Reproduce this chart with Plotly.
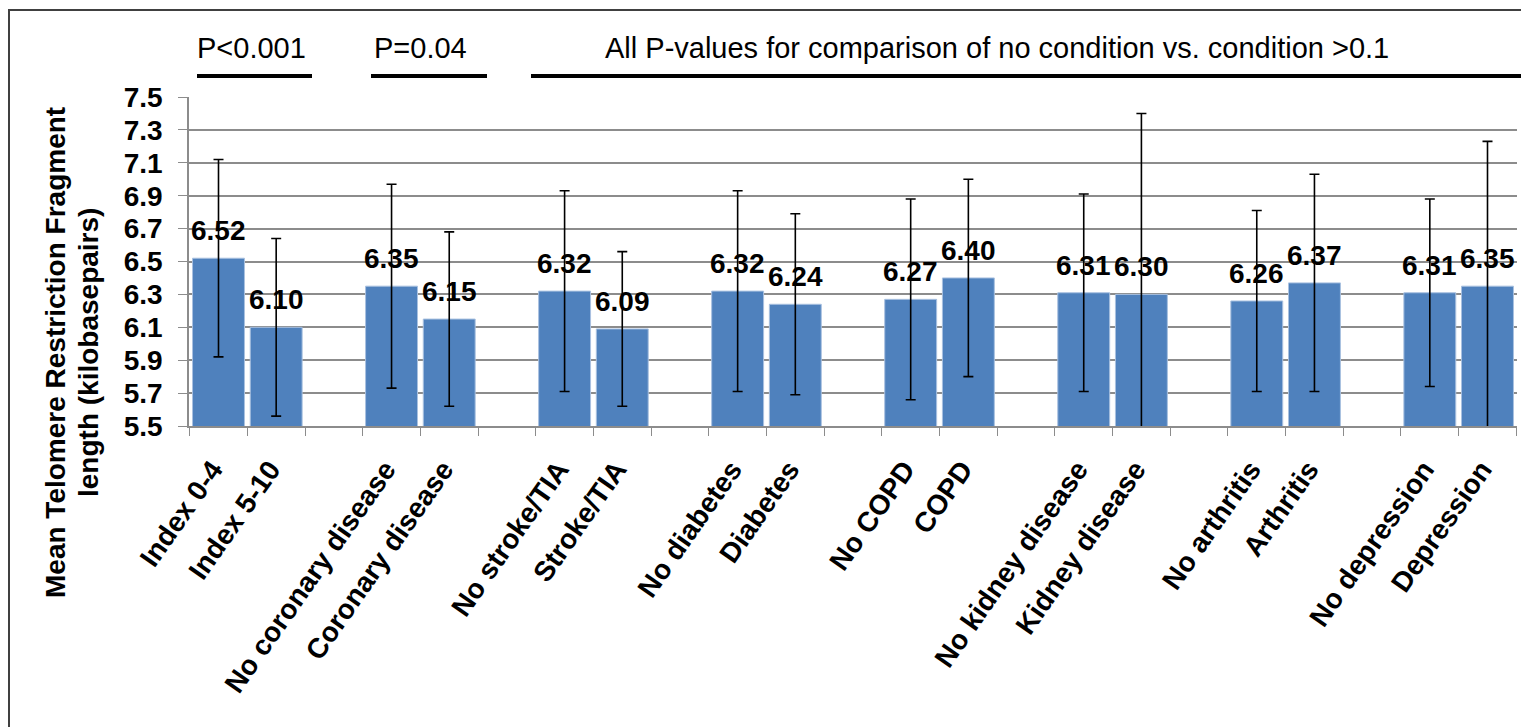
import plotly.graph_objects as go

# ---- data ----
groups = [
    ["Index 0-4", "Index 5-10"],
    ["No coronary disease", "Coronary disease"],
    ["No stroke/TIA", "Stroke/TIA"],
    ["No diabetes", "Diabetes"],
    ["No COPD", "COPD"],
    ["No kidney disease", "Kidney disease"],
    ["No arthritis", "Arthritis"],
    ["No depression", "Depression"],
]
means = [6.52, 6.10, 6.35, 6.15, 6.32, 6.09, 6.32, 6.24,
         6.27, 6.40, 6.31, 6.30, 6.26, 6.37, 6.31, 6.35]
errors = [0.60, 0.54, 0.62, 0.53, 0.61, 0.47, 0.61, 0.55,
          0.61, 0.60, 0.60, 1.10, 0.55, 0.66, 0.57, 0.88]
labels = ["6.52", "6.10", "6.35", "6.15", "6.32", "6.09", "6.32", "6.24",
          "6.27", "6.40", "6.31", "6.30", "6.26", "6.37", "6.31", "6.35"]
p_texts = ["P<0.001", "P=0.04",
           "All P-values for comparison of no condition vs. condition >0.1"]
y_title = ["Mean Telomere Restriction Fragment", "length (kilobasepairs)"]

# build category sequence with blank spacer slots between groups
cats, ys, errs = [], [], []
k = 0
for gi, g in enumerate(groups):
    for name in g:
        cats.append(name)
        ys.append(means[k])
        errs.append(errors[k])
        k += 1
    if gi < len(groups) - 1:
        cats.append(" " * (gi + 1))
        ys.append(None)
        errs.append(None)
bar_cats = [c for c in cats if c.strip()]

# page body has an 8px default margin; work in screenshot pixel coordinates
OX, OY = 8, 8
SW, SH = 1529, 727
W, H = SW - OX, SH - OY
PL, PR, PT, PB = 189, 1517, 97, 426   # plot area in screenshot pixels
L, R, T, B = PL - OX, SW - PR, PT - OY, SH - PB
pw, ph = PR - PL, PB - PT


def px(x):
    return (x - PL) / pw


def py(y):
    return (PB - y) / ph


FONT = "Liberation Sans, Arial, sans-serif"

fig = go.Figure()
fig.add_trace(go.Bar(
    x=cats, y=ys,
    marker=dict(color="#4F81BD", line=dict(color="#A9C1E0", width=1)),
    width=0.9,
    error_y=dict(type="data", array=errs, symmetric=True,
                 color="black", thickness=1.6, width=5),
    hoverinfo="skip",
))

# value labels above bars
for c, v, t in zip(bar_cats, means, labels):
    fig.add_annotation(x=c, y=v, xref="x", yref="y", text=t,
                       showarrow=False, xanchor="center", yanchor="bottom",
                       yshift=10,
                       font=dict(family=FONT, size=28, color="black",
                                 weight="bold"))

fig.update_layout(
    width=W, height=H,
    margin=dict(l=L, r=R, t=T, b=B, pad=0, autoexpand=False),
    paper_bgcolor="white", plot_bgcolor="white",
    showlegend=False,
    font=dict(family=FONT, color="black"),
    bargap=0.1,
)
fig.update_xaxes(
    type="category", categoryorder="array", categoryarray=cats,
    tickson="boundaries", ticks="outside", ticklen=8, tickcolor="#8C8C8C",
    tickangle=-55, showline=True, linecolor="#8C8C8C", linewidth=1.5,
    tickfont=dict(family=FONT, size=28, color="black", weight="bold"),
    showgrid=False, automargin=False, ticklabelstandoff=14,
    ticklabelshift=-6,
)
fig.update_yaxes(
    range=[5.5, 7.5], tick0=5.5, dtick=0.2, tickformat=".1f",
    ticks="outside", ticklen=9, tickcolor="#8C8C8C",
    showline=True, linecolor="#8C8C8C", linewidth=1.5,
    showgrid=True, gridcolor="#8C8C8C", gridwidth=1.5,
    tickfont=dict(family=FONT, size=28, color="black", weight="bold"),
    zeroline=False, automargin=False, ticklabelstandoff=10,
)

# y-axis title as two rotated lines
for t, cx in zip(y_title, [55, 88]):
    fig.add_annotation(
        x=px(cx), y=py(353), xref="paper", yref="paper",
        xanchor="center", yanchor="middle",
        text=t, textangle=-90, showarrow=False,
        font=dict(family=FONT, size=28, color="black", weight="bold"),
    )

# P-value headers and underlines
p_centers = [251, 420, 997]
p_lines = [(197, 312), (371, 487), (531, 1529)]
for t, cx, (x0, x1) in zip(p_texts, p_centers, p_lines):
    fig.add_annotation(x=px(cx), y=py(48), xref="paper", yref="paper",
                       xanchor="center", yanchor="middle",
                       text=t, showarrow=False,
                       font=dict(family=FONT, size=29, color="black"))
    fig.add_shape(type="line", xref="paper", yref="paper",
                  x0=px(x0), x1=px(x1), y0=py(76), y1=py(76),
                  line=dict(color="black", width=4))

# outer chart border
fig.add_shape(type="rect", xref="paper", yref="paper",
              x0=px(9), x1=px(1522), y0=py(730), y1=py(10),
              line=dict(color="#404040", width=2))

fig.write_html("out.html")
